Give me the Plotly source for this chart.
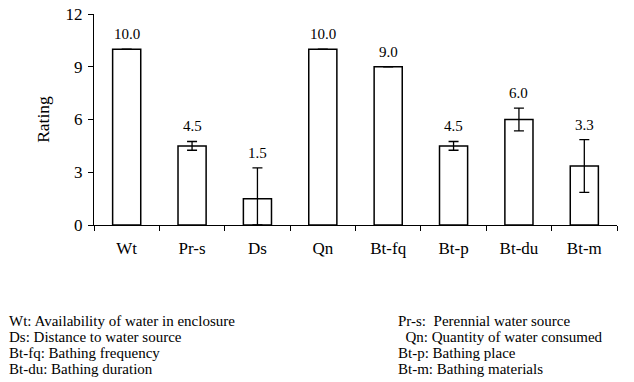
import plotly.graph_objects as go

categories = ["Wt", "Pr-s", "Ds", "Qn", "Bt-fq", "Bt-p", "Bt-du", "Bt-m"]
ratings = [10.0, 4.5, 1.5, 10.0, 9.0, 4.5, 6.0, 3.35]
err_plus = [0.0, 0.25, 1.75, 0.0, 0.0, 0.25, 0.65, 1.5]
err_minus = [0.0, 0.25, 1.5, 0.0, 0.0, 0.25, 0.65, 1.5]
value_labels = ["10.0", "4.5", "1.5", "10.0", "9.0", "4.5", "6.0", "3.3"]

y_ticks = [0, 3, 6, 9, 12]

legend_left = [
    "Wt: Availability of water in enclosure",
    "Ds: Distance to water source",
    "Bt-fq: Bathing frequency",
    "Bt-du: Bathing duration",
]
legend_right = [
    "Pr-s:&nbsp; Perennial water source",
    "&nbsp; Qn: Quantity of water consumed",
    "Bt-p: Bathing place",
    "Bt-m: Bathing materials",
]

FONT = "Liberation Serif"

W, H = 634, 382
L, R, T, B = 94, 17, 14, 157
pw = W - L - R
ph = H - T - B

fig = go.Figure()
fig.add_trace(go.Bar(
    x=categories,
    y=ratings,
    marker=dict(color="white", line=dict(color="black", width=1.5)),
    width=0.43,
    error_y=dict(type="data", symmetric=False, array=err_plus, arrayminus=err_minus,
                 color="black", thickness=1.3, width=5),
    showlegend=False,
))

annotations = []
for c, v, e, t in zip(categories, ratings, err_plus, value_labels):
    annotations.append(dict(x=c, y=v + e, xref="x", yref="y", text=t, showarrow=False,
                            yanchor="bottom", yshift=5,
                            font=dict(family=FONT, size=15, color="black")))


def px_to_paper(xp, yp):
    return (xp - L) / pw, (H - B - yp) / ph


top = 320.5
step = 16.2
for i, (l, r) in enumerate(zip(legend_left, legend_right)):
    ypix = top + i * step
    x1, y1 = px_to_paper(8, ypix)
    x2, _ = px_to_paper(397, ypix)
    annotations.append(dict(x=x1, y=y1, xref="paper", yref="paper", text=l,
                            showarrow=False, xanchor="left", yanchor="middle", borderpad=0,
                            font=dict(family=FONT, size=15, color="black")))
    annotations.append(dict(x=x2, y=y1, xref="paper", yref="paper", text=r,
                            showarrow=False, xanchor="left", yanchor="middle", borderpad=0,
                            font=dict(family=FONT, size=15, color="black")))

fig.update_layout(
    width=W, height=H,
    margin=dict(l=L, r=R, t=T, b=B),
    plot_bgcolor="white", paper_bgcolor="white",
    font=dict(family=FONT, size=17, color="black"),
    annotations=annotations,
    xaxis=dict(showline=True, linecolor="black", linewidth=1.3, ticks="outside",
               tickson="boundaries", ticklen=5, tickcolor="black", tickwidth=1.3,
               showgrid=False, tickfont=dict(family=FONT, size=17), ticklabelstandoff=7,
               automargin=False),
    yaxis=dict(range=[0, 12], tickvals=y_ticks, showline=True, linecolor="black",
               linewidth=1.3, ticks="outside", ticklen=5, tickcolor="black", tickwidth=1.3,
               showgrid=False, zeroline=False, tickfont=dict(family=FONT, size=17),
               ticklabeloverflow="allow", ticklabelstandoff=2, automargin=False,
               title=dict(text="Rating", font=dict(family=FONT, size=17.5), standoff=11)),
)

fig.write_html("out.html", config={"displayModeBar": False},
               post_script="document.body.style.margin='0px';")
